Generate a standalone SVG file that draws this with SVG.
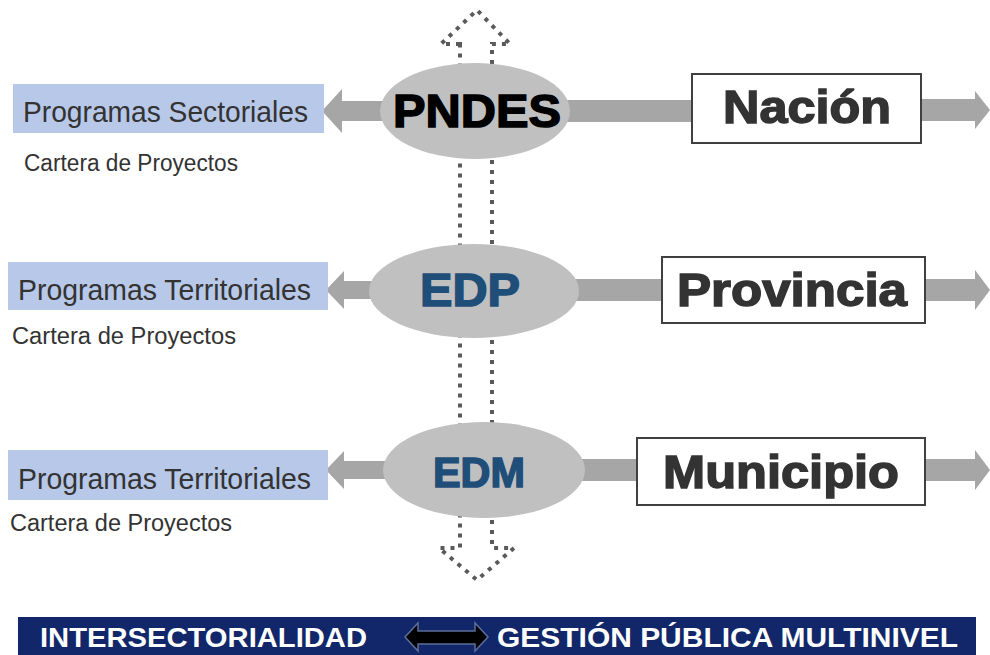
<svg xmlns="http://www.w3.org/2000/svg" width="990" height="655" viewBox="0 0 990 655">
<style>
.bg{fill:#ffffff}
.arrow{fill:#a6a6a6}
.prog{fill:#b8c8e8}
.ell{fill:#c0c0c0}
.lvl{fill:#ffffff;stroke:#404040;stroke-width:2}
.progtxt{font-family:"Liberation Sans",Arial,sans-serif;font-size:30px;fill:#333333}
.cart{font-family:"Liberation Sans",Arial,sans-serif;font-size:23px;fill:#333333}
.big{font-family:"Liberation Sans",Arial,sans-serif;font-weight:900;font-size:46px;text-anchor:middle;stroke-width:1.5}
.lvltxt{font-family:"Liberation Sans",Arial,sans-serif;font-weight:900;font-size:46px;fill:#333333;stroke:#333333;stroke-width:1.5;text-anchor:middle}
.band{font-family:"Liberation Sans",Arial,sans-serif;font-weight:bold;font-size:27px;fill:#ffffff}
.dots{fill:none;stroke:#5a5a5a;stroke-width:4;stroke-dasharray:4 6}
</style>
<rect class="bg" x="0" y="0" width="990" height="655"/>
<g id="connectors">
  <path class="dots" d="M460,44 L441,44 L477,10 L510,44 L492,44 L492,548 L514,548 L477,580 L439,548 L460,548 Z"/>
  <!-- row 1 -->
  <path class="arrow" d="M322,111 L342,89 L342,101 L400,101 L400,121 L342,121 L342,133 Z"/>
  <rect class="arrow" x="550" y="100" width="145" height="22"/>
  <path class="arrow" d="M920,99 L975,99 L975,91 L990,110 L975,129 L975,121 L920,121 Z"/>
  <!-- row 2 -->
  <path class="arrow" d="M326,290 L344,271 L344,281 L390,281 L390,299 L344,299 L344,309 Z"/>
  <rect class="arrow" x="560" y="279" width="104" height="22"/>
  <path class="arrow" d="M924,279 L975,279 L975,270 L990,290 L975,310 L975,301 L924,301 Z"/>
  <!-- row 3 -->
  <path class="arrow" d="M326,470 L344,451 L344,461 L400,461 L400,479 L344,479 L344,489 Z"/>
  <rect class="arrow" x="570" y="459" width="68" height="22"/>
  <path class="arrow" d="M924,459 L975,459 L975,450 L990,470 L975,490 L975,481 L924,481 Z"/>
</g>
<g id="prog-sectoriales">
  <rect class="prog" x="13" y="84" width="311" height="49"/>
  <text class="progtxt" x="23" y="122" textLength="285" lengthAdjust="spacingAndGlyphs">Programas Sectoriales</text>
  <text class="cart" x="24" y="171" textLength="214" lengthAdjust="spacingAndGlyphs">Cartera de Proyectos</text>
</g>
<g id="pndes">
  <ellipse class="ell" cx="475" cy="111" rx="95" ry="48"/>
  <text class="big" x="477" y="127" fill="#000000" stroke="#000000" textLength="168" lengthAdjust="spacingAndGlyphs">PNDES</text>
</g>
<g id="nacion">
  <rect class="lvl" x="692" y="74" width="229" height="69"/>
  <text class="lvltxt" x="807" y="123" textLength="168" lengthAdjust="spacingAndGlyphs">Nación</text>
</g>
<g id="prog-territoriales-1">
  <rect class="prog" x="8" y="262" width="320" height="48"/>
  <text class="progtxt" x="18" y="300" textLength="293" lengthAdjust="spacingAndGlyphs">Programas Territoriales</text>
  <text class="cart" x="12" y="344" textLength="224" lengthAdjust="spacingAndGlyphs">Cartera de Proyectos</text>
</g>
<g id="edp">
  <ellipse class="ell" cx="474" cy="291" rx="105" ry="47"/>
  <text class="big" x="470" y="306" fill="#1f4e79" stroke="#1f4e79" textLength="100" lengthAdjust="spacingAndGlyphs">EDP</text>
</g>
<g id="provincia">
  <rect class="lvl" x="662" y="257" width="263" height="66"/>
  <text class="lvltxt" x="792" y="306" textLength="230" lengthAdjust="spacingAndGlyphs">Provincia</text>
</g>
<g id="prog-territoriales-2">
  <rect class="prog" x="8" y="450" width="320" height="50"/>
  <text class="progtxt" x="18" y="489" textLength="293" lengthAdjust="spacingAndGlyphs">Programas Territoriales</text>
  <text class="cart" x="10" y="531" textLength="222" lengthAdjust="spacingAndGlyphs">Cartera de Proyectos</text>
</g>
<g id="edm">
  <ellipse class="ell" cx="484" cy="470" rx="101" ry="48"/>
  <text class="big" x="479" y="487" fill="#1f4e79" stroke="#1f4e79" textLength="92" lengthAdjust="spacingAndGlyphs" style="font-size:42px">EDM</text>
</g>
<g id="municipio">
  <rect class="lvl" x="637" y="438" width="288" height="67"/>
  <text class="lvltxt" x="781" y="488" textLength="236" lengthAdjust="spacingAndGlyphs">Municipio</text>
</g>
<g id="banner">
  <rect x="18" y="617" width="958" height="38" fill="#112769"/>
  <text class="band" x="40" y="647" textLength="327" lengthAdjust="spacingAndGlyphs">INTERSECTORIALIDAD</text>
  <path d="M405,637 L418,623 L418,631 L475,631 L475,623 L488,637 L475,651 L475,644 L418,644 L418,651 Z" fill="#000000" stroke="#5d6d9a" stroke-width="1.5"/>
  <text class="band" x="497" y="647" textLength="461" lengthAdjust="spacingAndGlyphs">GESTIÓN PÚBLICA MULTINIVEL</text>
</g>
</svg>
